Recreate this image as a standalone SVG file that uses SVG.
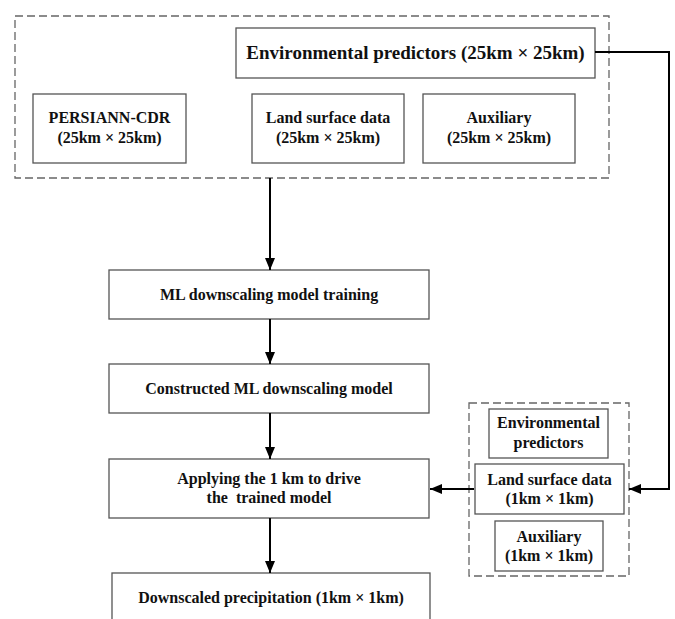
<svg xmlns="http://www.w3.org/2000/svg" width="675" height="619" viewBox="0 0 675 619">
<style>
.box{fill:#fff;stroke:#555;stroke-width:1.3}
.dash{fill:none;stroke:#666;stroke-width:1.3;stroke-dasharray:8,4}
.conn{fill:none;stroke:#000;stroke-width:2}
text{font-family:"Liberation Serif","Times New Roman",serif;font-weight:bold;fill:#111;text-anchor:middle;white-space:pre}
.t15{font-size:16px}
.t14{font-size:16px}
.t18{font-size:19px}
</style>
<defs>
<marker id="ah" viewBox="0 0 12 10" refX="12" refY="5" markerWidth="12" markerHeight="10" markerUnits="userSpaceOnUse" orient="auto">
<path d="M0,0 L12,5 L0,10 Z" fill="#000"/>
</marker>
</defs>
<rect id="group-25km" class="dash" x="15" y="16" width="594" height="162"/>
<rect id="group-1km" class="dash" x="469" y="403" width="160" height="173"/>
<g id="env25">
<rect class="box" x="236" y="28" width="359" height="50"/>
<text class="t18" x="415.5" y="59">Environmental predictors (25km × 25km)</text>
</g>
<g id="persiann">
<rect class="box" x="33" y="94" width="153" height="69"/>
<text class="t15" x="109.5" y="123">PERSIANN-CDR</text>
<text class="t15" x="109.5" y="143">(25km × 25km)</text>
</g>
<g id="land25">
<rect class="box" x="252" y="94" width="152" height="69"/>
<text class="t15" x="328" y="123">Land surface data</text>
<text class="t15" x="328" y="143">(25km × 25km)</text>
</g>
<g id="aux25">
<rect class="box" x="423" y="94" width="152" height="69"/>
<text class="t15" x="499" y="123">Auxiliary</text>
<text class="t15" x="499" y="143">(25km × 25km)</text>
</g>
<g id="training">
<rect class="box" x="109" y="270" width="320" height="49"/>
<text class="t15" x="269" y="300">ML downscaling model training</text>
</g>
<g id="constructed">
<rect class="box" x="109" y="364" width="320" height="49"/>
<text class="t15" x="269" y="394">Constructed ML downscaling model</text>
</g>
<g id="applying">
<rect class="box" x="109" y="459" width="320" height="59"/>
<text class="t15" x="269" y="484">Applying the 1 km to drive</text>
<text class="t15" x="269" y="503" xml:space="preserve">the  trained model</text>
</g>
<g id="downscaled">
<rect class="box" x="112" y="573" width="318" height="60"/>
<text class="t15" x="271" y="603">Downscaled precipitation (1km × 1km)</text>
</g>
<g id="env1">
<rect class="box" x="489" y="409" width="119" height="49"/>
<text class="t14" x="548.5" y="428">Environmental</text>
<text class="t14" x="548.5" y="448">predictors</text>
</g>
<g id="land1">
<rect class="box" x="475" y="464" width="149" height="50"/>
<text class="t14" x="549.5" y="485">Land surface data</text>
<text class="t14" x="549.5" y="504">(1km × 1km)</text>
</g>
<g id="aux1">
<rect class="box" x="495" y="521" width="108" height="50"/>
<text class="t14" x="549" y="542">Auxiliary</text>
<text class="t14" x="549" y="561">(1km × 1km)</text>
</g>
<g id="connectors">
<path class="conn" d="M270,178 V270" marker-end="url(#ah)"/>
<path class="conn" d="M270,319 V364" marker-end="url(#ah)"/>
<path class="conn" d="M270,413 V459" marker-end="url(#ah)"/>
<path class="conn" d="M270,518 V573" marker-end="url(#ah)"/>
<path class="conn" d="M474,489 H430" marker-end="url(#ah)"/>
<path class="conn" d="M595,52 H669 V489 H629" marker-end="url(#ah)"/>
</g>
</svg>
